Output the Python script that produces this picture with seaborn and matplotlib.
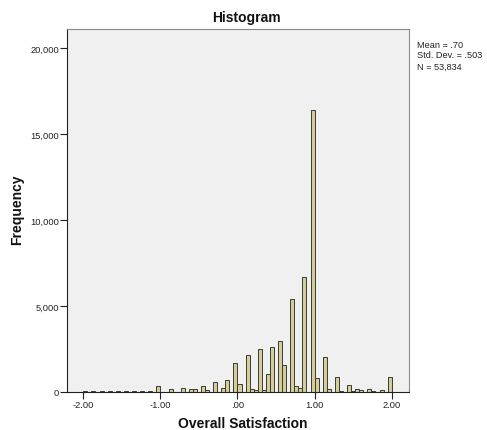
import numpy as np
import pandas as pd
import matplotlib
matplotlib.use("Agg")
import matplotlib.pyplot as plt
import seaborn as sns

# Histogram bins: 76 equal bins from -2.00 to 2.00
x_min, x_max, n_bins = -2.0, 2.0, 76
counts = [
    80, 0, 30, 0, 30, 0, 30, 0, 30, 0,
    30, 0, 30, 0, 30, 0, 30, 0, 375, 0,
    0, 150, 0, 0, 210, 0, 170, 170, 0, 350,
    100, 0, 600, 0, 260, 710, 0, 1670, 480, 0,
    2130, 200, 140, 2500, 100, 1030, 2600, 0, 2980, 1590,
    0, 5400, 330, 210, 6690, 0, 16390, 830, 0, 2060,
    175, 0, 870, 30, 0, 385, 30, 150, 100, 0,
    190, 30, 0, 130, 0, 870,
]
x_ticks = [-2, -1, 0, 1, 2]
x_tick_labels = ["-2.00", "-1.00", ".00", "1.00", "2.00"]
y_ticks = [0, 5000, 10000, 15000, 20000]
y_tick_labels = ["0", "5,000", "10,000", "15,000", "20,000"]
stats_text = ["Mean = .70", "Std. Dev. = .503", "N = 53,834"]

bin_width = (x_max - x_min) / n_bins
centers = x_min + bin_width * (np.arange(n_bins) + 0.5)
df = pd.DataFrame({"Overall Satisfaction": centers, "count": counts})

sns.set_theme(style="white")
plt.rcParams["font.family"] = ["Liberation Sans", "DejaVu Sans"]

W, H = 487, 431
fig = plt.figure(figsize=(W / 100, H / 100), dpi=100)
fig.patch.set_facecolor("white")
ax = fig.add_axes([67 / W, 1 - 393 / H, (409 - 67) / W, (393 - 30) / H])

sns.histplot(data=df, x="Overall Satisfaction", weights="count",
             binwidth=bin_width, binrange=(x_min, x_max),
             color="#D4CE96", edgecolor="#3a3a3a", linewidth=0.7, alpha=1.0,
             ax=ax)

ax.set_facecolor("#F0F0F0")
ax.set_xlim(-2.211, 2.224)
ax.set_ylim(0, 21105)

ax.set_xticks(x_ticks)
ax.set_xticklabels(x_tick_labels)
ax.set_yticks(y_ticks)
ax.set_yticklabels(y_tick_labels)
ax.tick_params(axis="both", which="both", direction="out", length=5, width=0.8,
               color="#222222", labelsize=6.7, labelcolor="#222222", pad=0.8,
               bottom=True, left=True)

for side in ["top", "right"]:
    ax.spines[side].set_color("#8a8a8a")
    ax.spines[side].set_linewidth(0.8)
for side in ["left", "bottom"]:
    ax.spines[side].set_color("#222222")
    ax.spines[side].set_linewidth(0.8)

ax.set_xlabel("")
ax.set_ylabel("")
fig.text(246 / W, 1 - 18 / H, "Histogram", ha="center", va="center",
         fontsize=10, fontweight="bold", color="#111111")
fig.text(243 / W, 1 - 424 / H, "Overall Satisfaction", ha="center", va="center",
         fontsize=10, fontweight="bold", color="#111111")
fig.text(17 / W, 1 - 210 / H, "Frequency", ha="center", va="center",
         rotation=90, fontsize=10, fontweight="bold", color="#111111")

for i, s in enumerate(stats_text):
    fig.text(417 / W, 1 - (45 + i * 11) / H, s, ha="left", va="center",
             fontsize=6.6, color="#222222")

fig.savefig("out.png", dpi=100)
